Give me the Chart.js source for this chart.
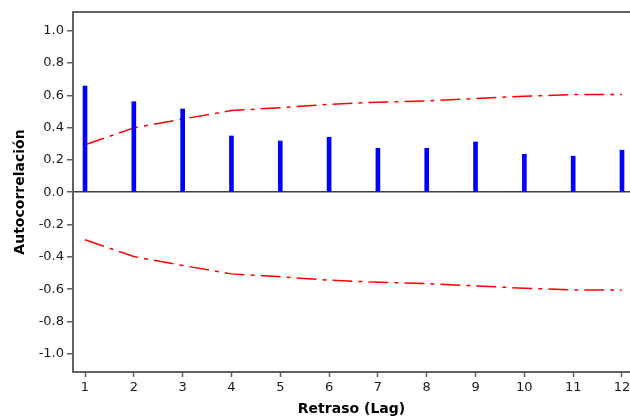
<!DOCTYPE html>
<html>
<head>
<meta charset="utf-8">
<title>Autocorrelación</title>
<script src="https://cdn.jsdelivr.net/npm/chart.js@4"></script>
<style>
  html, body { margin: 0; padding: 0; background: #fff; }
  #acf { display: block; }
</style>
</head>
<body>
<canvas id="acf" width="630" height="419"></canvas>
<script>
// lags and sample autocorrelations
var lags = [1, 2, 3, 4, 5, 6, 7, 8, 9, 10, 11, 12];
var acf = [0.657, 0.560, 0.515, 0.348, 0.317, 0.340, 0.272, 0.272, 0.311, 0.235, 0.223, 0.260];
// 5% significance limits
var upperLimit = [0.294, 0.398, 0.453, 0.505, 0.523, 0.544, 0.557, 0.565, 0.579, 0.594, 0.604, 0.604];
var lowerLimit = upperLimit.map(function (v) { return -v; });
var yTicks = [-1.0, -0.8, -0.6, -0.4, -0.2, 0.0, 0.2, 0.4, 0.6, 0.8, 1.0];

var axisColor = '#606060';
var font = { family: 'DejaVu Sans', size: 13 };
var titleFont = { family: 'DejaVu Sans', size: 14, weight: 'bold' };

function points(values) {
    return lags.map(function (lag, i) { return { x: lag, y: values[i] }; });
}

// frame line along the top of the plot
var topBorder = {
    id: 'topBorder',
    afterDraw: function (chart) {
        var a = chart.chartArea;
        var c = chart.ctx;
        c.save();
        c.strokeStyle = axisColor;
        c.lineWidth = 2;
        c.beginPath();
        c.moveTo(a.left, a.top);
        c.lineTo(a.right, a.top);
        c.stroke();
        c.restore();
    }
};

var ctx = document.getElementById('acf').getContext('2d');
var chart = new Chart(ctx, {
    type: 'bar',
    data: {
        datasets: [{
            label: 'FAC',
            data: points(acf),
            backgroundColor: '#0000ff',
            barThickness: 4,
            order: 0
        }, {
            type: 'line',
            label: 'Límite superior',
            data: points(upperLimit),
            borderColor: '#ff0000',
            borderWidth: 1.5,
            borderDash: [20, 6, 4, 6],
            pointRadius: 0,
            tension: 0,
            fill: false,
            order: 1
        }, {
            type: 'line',
            label: 'Límite inferior',
            data: points(lowerLimit),
            borderColor: '#ff0000',
            borderWidth: 1.5,
            borderDash: [20, 6, 4, 6],
            pointRadius: 0,
            tension: 0,
            fill: false,
            order: 1
        }]
    },
    options: {
        responsive: false,
        animation: false,
        layout: { padding: { top: 12, right: 0, bottom: 0, left: 0 } },
        plugins: {
            legend: { display: false },
            tooltip: { enabled: false }
        },
        scales: {
            x: {
                type: 'linear',
                min: 0.754,
                max: 12.164,
                offset: false,
                afterBuildTicks: function (scale) {
                    scale.ticks = lags.map(function (v) { return { value: v }; });
                },
                afterFit: function (scale) {
                    // plot runs right to the canvas edge, no room kept for the last label
                    scale.height = 47;
                    scale.paddingLeft = 0;
                    scale.paddingRight = 0;
                },
                ticks: { font: font, color: '#1a1a1a', padding: 3, maxRotation: 0 },
                grid: {
                    offset: false,
                    drawOnChartArea: false,
                    tickLength: 5,
                    tickColor: axisColor,
                    tickWidth: 1.5
                },
                border: { color: axisColor, width: 2 },
                title: {
                    display: true,
                    text: 'Retraso (Lag)',
                    font: titleFont,
                    color: '#000',
                    padding: { top: 0, bottom: 1 }
                }
            },
            y: {
                min: -1.112,
                max: 1.115,
                afterBuildTicks: function (scale) {
                    scale.ticks = yTicks.map(function (v) { return { value: v }; });
                },
                afterFit: function (scale) {
                    scale.width = 73;
                    scale.paddingTop = 0;
                    scale.paddingBottom = 0;
                },
                ticks: {
                    font: font,
                    color: '#1a1a1a',
                    padding: 3,
                    callback: function (v) { return v.toFixed(1); }
                },
                grid: {
                    color: function (c) {
                        return c.tick && c.tick.value === 0 ? '#404040' : 'rgba(0,0,0,0)';
                    },
                    lineWidth: 1.5,
                    tickLength: 6,
                    tickColor: axisColor,
                    tickWidth: 1.5
                },
                border: { color: axisColor, width: 2 },
                title: {
                    display: true,
                    text: 'Autocorrelación',
                    font: titleFont,
                    color: '#000',
                    padding: { top: 12, bottom: 0 }
                }
            }
        }
    },
    plugins: [topBorder]
});
</script>
</body>
</html>
